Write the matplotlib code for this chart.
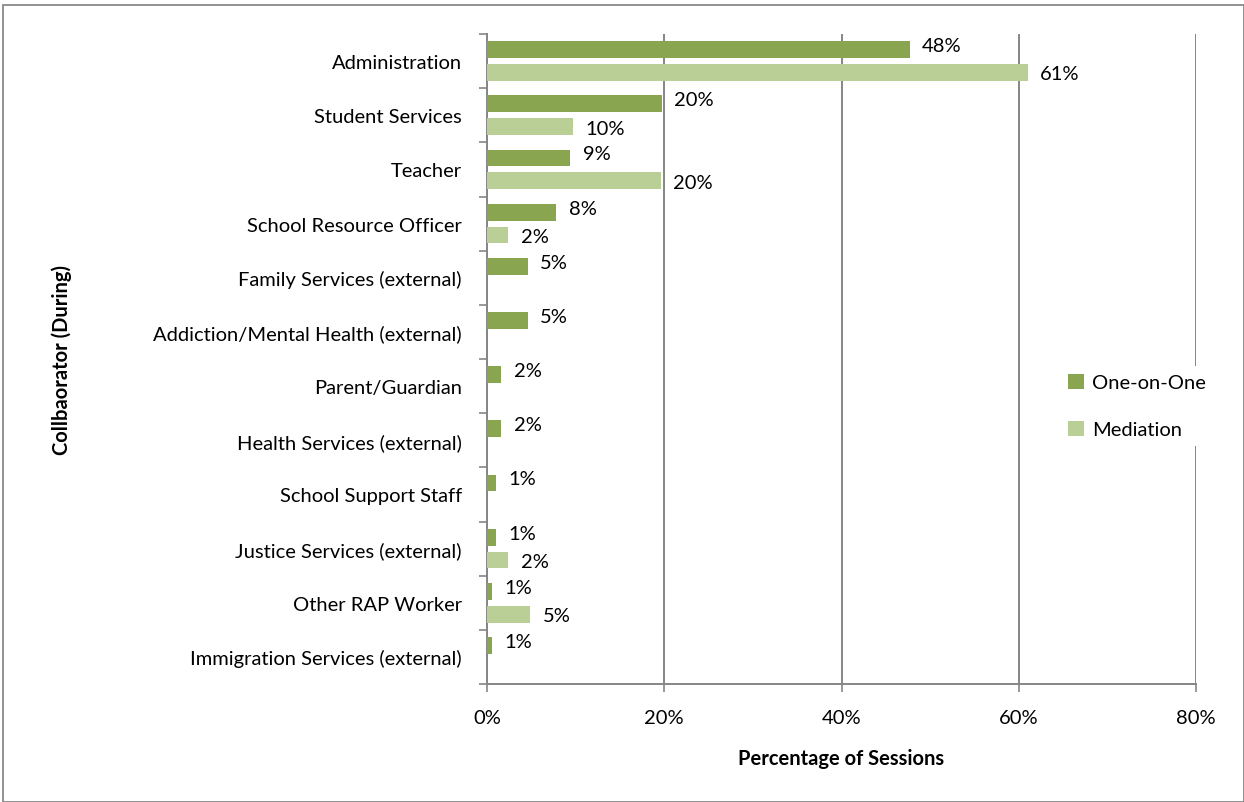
import numpy as np
import matplotlib
matplotlib.use("Agg")
import matplotlib.pyplot as plt
from matplotlib.patches import Rectangle

plt.rcParams['font.family'] = ['Lato', 'DejaVu Sans']

# ---------------- DATA ----------------
categories = [
    "Administration",
    "Student Services",
    "Teacher",
    "School Resource Officer",
    "Family Services (external)",
    "Addiction/Mental Health (external)",
    "Parent/Guardian",
    "Health Services (external)",
    "School Support Staff",
    "Justice Services (external)",
    "Other RAP Worker",
    "Immigration Services (external)",
]
one_on_one = [47.7, 19.7, 9.4, 7.8, 4.6, 4.6, 1.6, 1.6, 1.0, 1.0, 0.6, 0.6]
mediation = [61.0, 9.7, 19.6, 2.4, 0, 0, 0, 0, 0, 2.4, 4.9, 0]
xticks = [0, 20, 40, 60, 80]

dark_green = '#8aa54f'
light_green = '#b9cf96'
grid_gray = '#868686'

# ---------------- PLOT ----------------
fig = plt.figure(figsize=(12.44, 8.03), dpi=100)
ax = fig.add_axes([487/1244, 1-685/803, (1196-487)/1244, (685-35)/803])

y = np.arange(len(categories))
h = 0.31
off = 0.21
ax.barh(y - off, one_on_one, height=h, color=dark_green, label='One-on-One', zorder=3)
ax.barh(y + off, mediation, height=h, color=light_green, label='Mediation', zorder=3)

# data labels
for yi, v in zip(y, one_on_one):
    if v > 0:
        ax.annotate(f"{v:.0f}%", (v, yi - off), xytext=(9, 3), textcoords='offset points',
                    ha='left', va='center', fontsize=14.5)
for yi, v in zip(y, mediation):
    if v > 0:
        ax.annotate(f"{v:.0f}%", (v, yi + off), xytext=(9, -1), textcoords='offset points',
                    ha='left', va='center', fontsize=14.5)

ax.set_xlim(0, 80)
ax.set_ylim(len(categories) - 0.5, -0.5)
ax.set_xticks(xticks)
ax.set_xticklabels([f"{t}%" for t in xticks], fontsize=14.5)
ax.tick_params(axis='x', length=6, width=1.2, color=grid_gray, pad=12, direction='out')

# category labels via minor ticks, boundary ticks as major
ax.set_yticks(np.arange(len(categories) + 1) - 0.5)
ax.set_yticklabels([])
ax.tick_params(axis='y', which='major', length=6, width=1.2, color=grid_gray, direction='out')
ax.set_yticks(y, minor=True)
ax.set_yticklabels(categories, minor=True, fontsize=14.5)
ax.tick_params(axis='y', which='minor', length=0, pad=18)

ax.grid(axis='x', color=grid_gray, linewidth=1.4, zorder=0)
for s in ['top', 'right']:
    ax.spines[s].set_visible(False)
for s in ['left', 'bottom']:
    ax.spines[s].set_color(grid_gray)
    ax.spines[s].set_linewidth(1.4)

ax.set_xlabel("Percentage of Sessions", fontsize=14.5, fontweight='bold', labelpad=16)
fig.text(62/1244, 1-360/803, "Collbaorator (During)", rotation=90, fontsize=14.5,
         fontweight='bold', ha='center', va='center')

leg = ax.legend(loc='center left', fontsize=14.5,
                frameon=True, handlelength=0.8, handleheight=0.8, handletextpad=0.4,
                labelspacing=1.45, borderpad=0.4)
leg.get_frame().set_edgecolor('none')
leg.get_frame().set_facecolor('white')
leg.get_frame().set_alpha(1)
leg.set_zorder(5)
leg.set_bbox_to_anchor((1050/1244, 1-407/803), transform=fig.transFigure)

# outer border
fig.patches.append(Rectangle((3/1244, 0), 1 - 3/1244, 1 - 6/803, transform=fig.transFigure,
                             fill=False, edgecolor='#7f7f7f', linewidth=1.2))

fig.savefig("out.png", dpi=100)
